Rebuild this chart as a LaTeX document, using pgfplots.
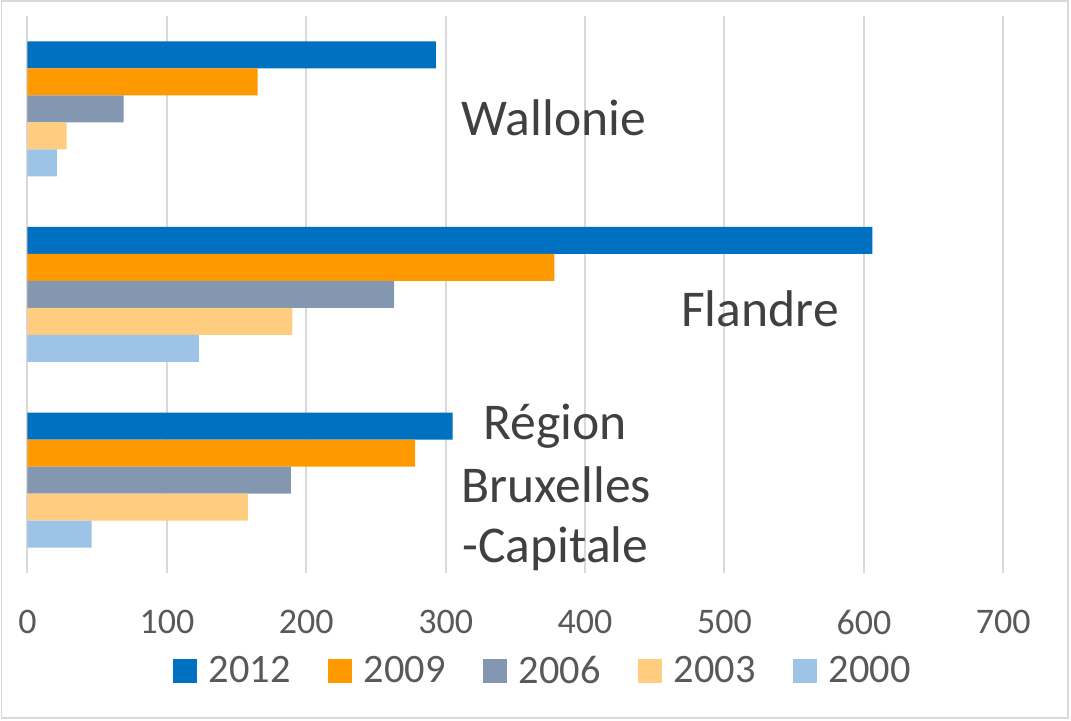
\documentclass[border=0pt]{standalone}
\usepackage{pgfplots}
\pgfplotsset{compat=1.18}
\usepackage{fontspec}
\setmainfont{Carlito}
\definecolor{c2012}{HTML}{0070C0}
\definecolor{c2009}{HTML}{FF9900}
\definecolor{c2006}{HTML}{8497B0}
\definecolor{c2003}{HTML}{FFCC80}
\definecolor{c2000}{HTML}{9DC3E6}
\definecolor{gridgray}{HTML}{D9D9D9}
\definecolor{tickgray}{HTML}{595959}
\definecolor{labgray}{HTML}{404040}
\definecolor{framegray}{HTML}{D9D9D9}
\begin{document}
\begin{tikzpicture}
\path[use as bounding box] (0,0) rectangle (535.5pt,360.5pt);
\draw[framegray, line width=0.75pt] (0.75pt,1.5pt) rectangle (534pt,360pt);
\begin{axis}[
  at={(13.75pt,74pt)}, anchor=south west,
  scale only axis, width=487.9pt, height=278.5pt,
  xmin=0, xmax=700, ymin=-0.5, ymax=2.5,
  xtick={0,100,...,700}, ytick=\empty,
  xmajorgrids, grid style={gridgray, line width=1pt},
  axis line style={draw=none}, tick style={draw=none},
  /pgf/number format/assume math mode=true,
  xticklabel style={font=\fontsize{18}{18}\selectfont, text=tickgray, inner sep=0pt, yshift=-18.5pt},
  legend columns=5,
  legend style={draw=none, fill=none, at={(0.527,-0.176)}, anchor=center,
    font=\fontsize{20.2}{20.2}\selectfont, text=tickgray,
    nodes={inner sep=0pt},
    /tikz/every odd column/.append style={column sep=6pt},
    /tikz/every even column/.append style={column sep=18.5pt}},
  clip=false,
]
% y: 2 = Wallonie, 1 = Flandre, 0 = Region Bruxelles-Capitale
\addplot[xbar, fill=c2012, draw=none, bar width=0.1454, bar shift=0.2908,
  legend image code/.code={\fill[c2012] (0pt,-6pt) rectangle (12pt,6pt);}]
  coordinates {(293,2) (606,1) (305,0)};
\addlegendentry{2012}
\addplot[xbar, fill=c2009, draw=none, bar width=0.1454, bar shift=0.1454,
  legend image code/.code={\fill[c2009] (0pt,-6pt) rectangle (12pt,6pt);}]
  coordinates {(165,2) (378,1) (278,0)};
\addlegendentry{2009}
\addplot[xbar, fill=c2006, draw=none, bar width=0.1454, bar shift=0,
  legend image code/.code={\fill[c2006] (0pt,-6pt) rectangle (12pt,6pt);}]
  coordinates {(69,2) (263,1) (189,0)};
\addlegendentry{2006}
\addplot[xbar, fill=c2003, draw=none, bar width=0.1454, bar shift=-0.1454,
  legend image code/.code={\fill[c2003] (0pt,-6pt) rectangle (12pt,6pt);}]
  coordinates {(28,2) (190,1) (158,0)};
\addlegendentry{2003}
\addplot[xbar, fill=c2000, draw=none, bar width=0.1454, bar shift=-0.2908,
  legend image code/.code={\fill[c2000] (0pt,-6pt) rectangle (12pt,6pt);}]
  coordinates {(21,2) (123,1) (46,0)};
\addlegendentry{2000}
\node[anchor=base, text=labgray, font=\fontsize{25.8}{25.8}\selectfont, inner sep=0pt] at (axis cs:377.5,1.8546) {Wallonie};
\node[anchor=base, text=labgray, font=\fontsize{25.8}{25.8}\selectfont, inner sep=0pt] at (axis cs:525.5,0.829) {Flandre};
\node[anchor=base, text=labgray, font=\fontsize{25.8}{25.8}\selectfont, inner sep=0pt] at (axis cs:378.5,0.2208) {Région};
\node[anchor=base, text=labgray, font=\fontsize{25.8}{25.8}\selectfont, inner sep=0pt] at (axis cs:379.3,-0.1185) {Bruxelles};
\node[anchor=base, text=labgray, font=\fontsize{25.8}{25.8}\selectfont, inner sep=0pt] at (axis cs:378.8,-0.4416) {-Capitale};
\end{axis}
\end{tikzpicture}
\end{document}
